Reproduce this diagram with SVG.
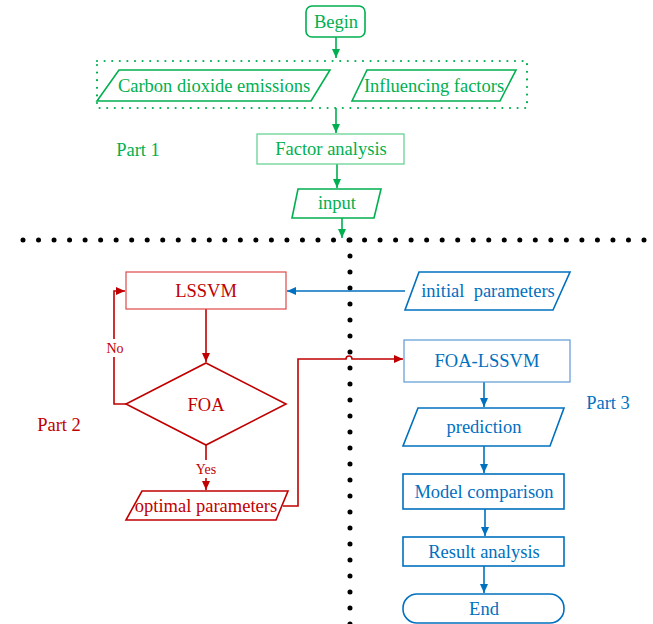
<svg xmlns="http://www.w3.org/2000/svg" width="653" height="624" viewBox="0 0 653 624">
<defs>
<style>
text{font-family:"Liberation Serif","Times New Roman",serif;font-size:18.5px;text-anchor:middle;dominant-baseline:central}
.g{fill:#00b050}.r{fill:#c00000}.b{fill:#0070c0}
.sm{font-size:14px}
.pg{fill:none;stroke:#00b050;stroke-width:1.6}
.pr{fill:none;stroke:#c00000;stroke-width:1.6}
.pb{fill:none;stroke:#0070c0;stroke-width:1.6}
.bg{fill:#fff;stroke:#5ccf8a;stroke-width:1.2}
.br{fill:#fff;stroke:#e04848;stroke-width:1.2}
.bb{fill:#fff;stroke:#5b9bd5;stroke-width:1.2}
.cg{fill:none;stroke:#00b050;stroke-width:1.6}
.cr{fill:none;stroke:#c00000;stroke-width:1.6}
.cb{fill:none;stroke:#0070c0;stroke-width:1.6}
.dots{fill:none;stroke:#000;stroke-width:5;stroke-linecap:round}
</style>
<marker id="ag" markerWidth="10" markerHeight="10" refX="9" refY="5" orient="auto" markerUnits="userSpaceOnUse"><path d="M0,1 L9,5 L0,9 Z" fill="#00b050"/></marker>
<marker id="ar" markerWidth="10" markerHeight="10" refX="9" refY="5" orient="auto" markerUnits="userSpaceOnUse"><path d="M0,1 L9,5 L0,9 Z" fill="#c00000"/></marker>
<marker id="ab" markerWidth="10" markerHeight="10" refX="9" refY="5" orient="auto" markerUnits="userSpaceOnUse"><path d="M0,1 L9,5 L0,9 Z" fill="#0070c0"/></marker>
</defs>
<rect width="653" height="624" fill="#fff"/>

<g id="separators">
<line class="dots" x1="23" y1="240" x2="644" y2="240" stroke-dasharray="0 15.525"/>
<line class="dots" x1="350" y1="240" x2="350" y2="630" stroke-dasharray="0 16"/>
</g>

<g id="part1-group">
<rect x="97" y="61" width="430" height="47" fill="none" stroke="#00b050" stroke-width="2.2" stroke-linecap="round" stroke-dasharray="0 7.6"/>
</g>

<g id="connectors">
<path class="cg" d="M336,37 V58" marker-end="url(#ag)"/>
<path class="cg" d="M336,108 V133" marker-end="url(#ag)"/>
<path class="cg" d="M337,164 V188" marker-end="url(#ag)"/>
<path class="cg" d="M342,218 V238" marker-end="url(#ag)"/>
<path class="cb" d="M405,291 H287" marker-end="url(#ab)"/>
<path class="cr" d="M206,309 V362" marker-end="url(#ar)"/>
<path class="cr" d="M126,404 H114 V291 H125" marker-end="url(#ar)"/>
<path class="cr" d="M206,445 V490" marker-end="url(#ar)"/>
<path class="cr" d="M283,506 H298 V359 H346 A3,3 0 0 1 352,359 H403" marker-end="url(#ar)"/>
<path class="cb" d="M484,382 V407" marker-end="url(#ab)"/>
<path class="cb" d="M484,446 V473" marker-end="url(#ab)"/>
<path class="cb" d="M485,509 V536" marker-end="url(#ab)"/>
<path class="cb" d="M484,566 V593" marker-end="url(#ab)"/>
<rect x="104" y="339" width="22" height="18" fill="#fff"/>
<text class="r sm" x="115" y="348">No</text>
<rect x="194" y="460" width="24" height="18" fill="#fff"/>
<text class="r sm" x="206" y="469">Yes</text>
</g>

<g id="begin">
<rect x="306" y="6" width="59" height="31" rx="6" fill="#fff" stroke="#00b050" stroke-width="1.6"/>
<text class="g" x="336" y="22">Begin</text>
</g>
<g id="carbon">
<polygon class="pg" points="119,70 330,70 311,101 97,101"/>
<text class="g" x="214" y="86">Carbon dioxide emissions</text>
</g>
<g id="influencing">
<polygon class="pg" points="367,70 516,70 500,101 352,101"/>
<text class="g" x="434" y="86">Influencing factors</text>
</g>
<g id="factor">
<rect class="bg" x="257" y="134" width="147" height="30"/>
<text class="g" x="331" y="149">Factor analysis</text>
</g>
<g id="input">
<polygon class="pg" points="298,189 381,189 374,218 292,218"/>
<text class="g" x="337" y="203">input</text>
</g>
<text id="part1" class="g" x="138" y="150">Part 1</text>

<g id="lssvm">
<rect class="br" x="126" y="272" width="160" height="37"/>
<text class="r" x="206" y="291">LSSVM</text>
</g>
<g id="foa">
<polygon class="pr" points="206,363 286,404 206,445 126,404"/>
<text class="r" x="206" y="405">FOA</text>
</g>
<g id="optimal">
<polygon class="pr" points="142,491 288,491 276,520 126,520"/>
<text class="r" x="206" y="506">optimal parameters</text>
</g>
<text id="part2" class="r" x="59" y="425">Part 2</text>

<g id="initial">
<polygon class="pb" points="419,272 570,272 553,310 405,310"/>
<text class="b" x="488" y="291" xml:space="preserve">initial  parameters</text>
</g>
<g id="foalssvm">
<rect class="bb" x="404" y="340" width="166" height="42"/>
<text class="b" x="487" y="361">FOA-LSSVM</text>
</g>
<g id="prediction">
<polygon class="pb" points="418,408 564,408 550,446 403,446"/>
<text class="b" x="484" y="427">prediction</text>
</g>
<g id="model">
<rect fill="#fff" stroke="#0070c0" stroke-width="1.6" x="403" y="474" width="161" height="35"/>
<text class="b" x="484" y="492">Model comparison</text>
</g>
<g id="result">
<rect fill="#fff" stroke="#0070c0" stroke-width="1.6" x="403" y="537" width="161" height="29"/>
<text class="b" x="484" y="552">Result analysis</text>
</g>
<g id="end">
<rect fill="#fff" stroke="#0070c0" stroke-width="1.6" x="403" y="594" width="161" height="29" rx="14"/>
<text class="b" x="484" y="609">End</text>
</g>
<text id="part3" class="b" x="608" y="403">Part 3</text>
</svg>
